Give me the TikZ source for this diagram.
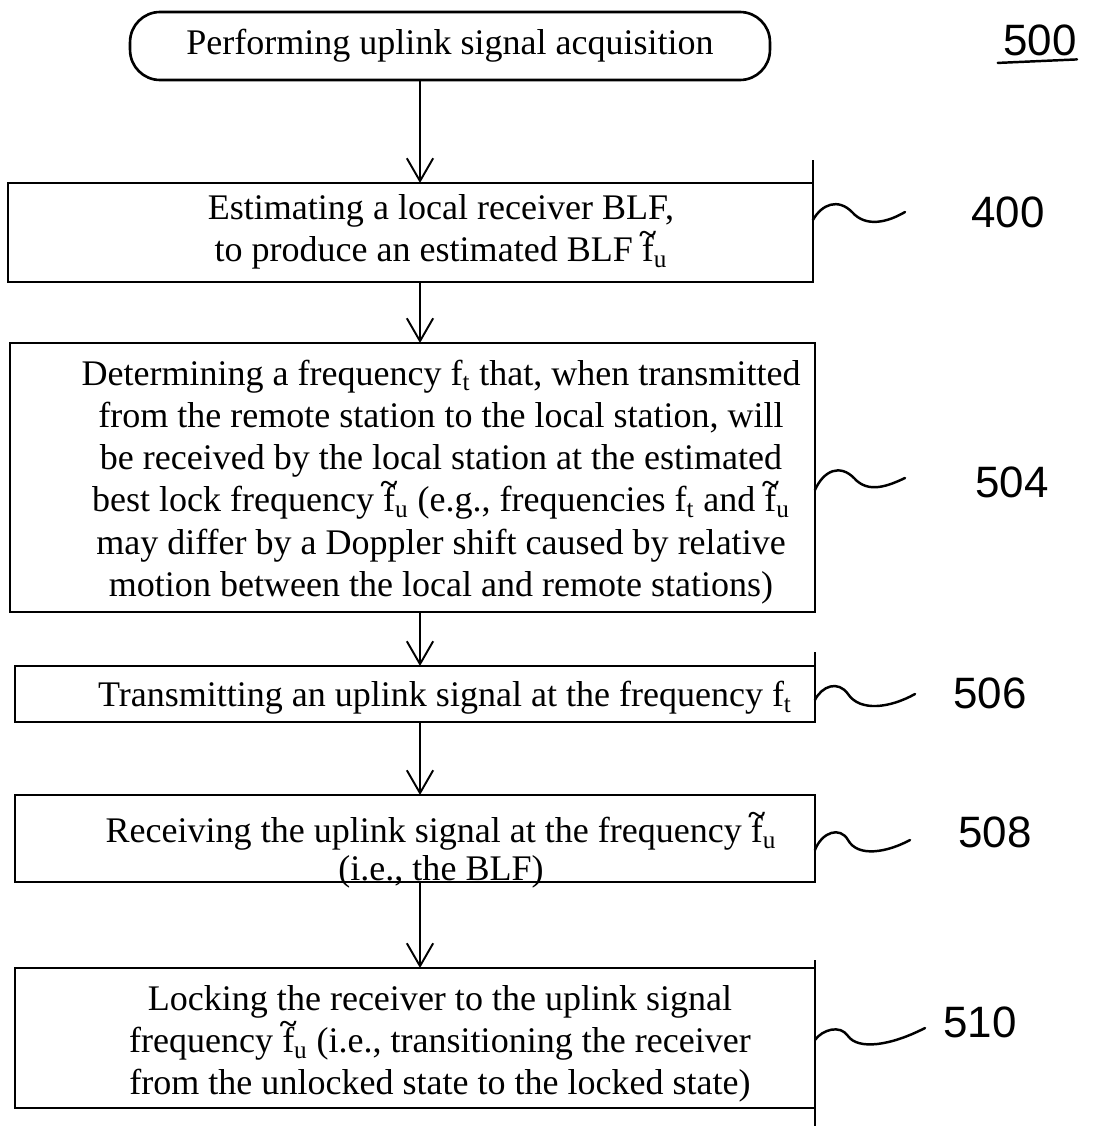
\documentclass[tikz,border=0pt]{standalone}
\usepackage{fontspec}
\setmainfont{Liberation Serif}
\newfontfamily\handfont{Liberation Sans}
\usetikzlibrary{arrows.meta,calc}
\newcommand\tld{\raisebox{0.52em}{\scalebox{0.9}[0.8]{\textbf{\char"7E}}}}
\newcommand\fu{\ooalign{f\cr\hidewidth\tld\hidewidth\cr}\textsubscript{u}}
\newcommand\ft{f\textsubscript{t}}
\begin{document}
\begin{tikzpicture}[x=0.02cm,y=-0.02cm,
  box/.style={draw, line width=1.5pt, inner sep=0pt, outer sep=0pt},
  txt/.style={align=center, inner sep=0pt, font=\fontsize{20.5}{24}\selectfont},
  hand/.style={font=\handfont\fontsize{25}{30}\selectfont, inner sep=0pt},
  arr/.style={line width=1.1pt, -{Straight Barb[length=13pt,width=15pt,line width=1.1pt]}},
  sq/.style={line width=1.4pt, line cap=round}]
\useasboundingbox (0,0) rectangle (1095,1129);
% boxes
\node[box, rounded corners=0.6cm, minimum width=12.8cm, minimum height=1.36cm, txt] (start) at (450,46) {Performing uplink signal acquisition};
\node[box, minimum width=16.1cm, minimum height=1.98cm] (b400) at (410.5,232.5) {};
\node[box, minimum width=16.1cm, minimum height=5.38cm] (b504) at (412.5,477.5) {};
\node[box, minimum width=16cm, minimum height=1.12cm] (b506) at (415,694) {};
\node[box, minimum width=16cm, minimum height=1.74cm] (b508) at (415,838.5) {};
\node[box, minimum width=16cm, minimum height=2.8cm] (b510) at (415,1038) {};
% texts
\node[txt] (t400) at (441,232) {Estimating a local receiver BLF,\\to produce an estimated BLF \fu};
\node[txt] (t504) at (441,482) {Determining a frequency \ft{} that, when transmitted\\from the remote station to the local station, will\\be received by the local station at the estimated\\best lock frequency \fu{} (e.g., frequencies \ft{} and \fu\\may differ by a Doppler shift caused by relative\\motion between the local and remote stations)};
\node[txt] (t506) at (445,698) {Transmitting an uplink signal at the frequency \ft};
\node[txt, font=\fontsize{20.5}{21.5}\selectfont] (t508) at (441,853) {Receiving the uplink signal at the frequency \fu\\(i.e., the BLF)};
\node[txt] (t510) at (440,1044) {Locking the receiver to the uplink signal\\frequency \fu{} (i.e., transitioning the receiver\\from the unlocked state to the locked state)};
% edge extensions
\draw[line width=1.5pt] (b400.north east) -- ++(0,-23);
\draw[line width=1.5pt] (b506.north east) -- ++(0,-14);
\draw[line width=1.5pt] (b510.north east) -- ++(0,-8);
\draw[line width=1.5pt] (b510.south east) -- ++(0,18);
% arrows
\coordinate (ax) at (420,0);
\draw[arr] (start.south -| ax) -- (b400.north -| ax);
\draw[arr] (b400.south -| ax) -- (b504.north -| ax);
\draw[arr] (b504.south -| ax) -- (b506.north -| ax);
\draw[arr] (b506.south -| ax) -- (b508.north -| ax);
\draw[arr] (b508.south -| ax) -- (b510.north -| ax);
% reference labels
\node[hand] (l500) at (1040,40) {500};
\draw[sq] ([xshift=-3pt,yshift=-4pt]l500.south west) -- ([yshift=-2pt]l500.south east);
\node[hand] (l400) at (1008,212) {400};
\node[hand] (l504) at (1012,482) {504};
\node[hand] (l506) at (990,693) {506};
\node[hand] (l508) at (995,832) {508};
\node[hand] (l510) at (980,1022) {510};
% squiggles
\coordinate (q400) at (905,212);
\coordinate (q504) at (905,478);
\coordinate (q506) at (915,694);
\coordinate (q508) at (910,840);
\coordinate (q510) at (925,1028);
\draw[sq] ($(b400.north east)+(0,37)$) .. controls (822,204) and (838,198) .. (852,212) .. controls (866,228) and (888,222) .. (q400);
\draw[sq] ($(b504.north east)+(0,147)$) .. controls (824,470) and (840,464) .. (854,478) .. controls (868,494) and (888,486) .. (q504);
\draw[sq] ($(b506.north east)+(0,34)$) .. controls (822,686) and (838,680) .. (848,694) .. controls (860,712) and (890,708) .. (q506);
\draw[sq] ($(b508.north east)+(0,55)$) .. controls (822,832) and (840,826) .. (848,840) .. controls (858,858) and (888,852) .. (q508);
\draw[sq] ($(b510.north east)+(0,72)$) .. controls (822,1030) and (840,1024) .. (848,1036) .. controls (858,1050) and (890,1046) .. (q510);
\end{tikzpicture}
\end{document}
